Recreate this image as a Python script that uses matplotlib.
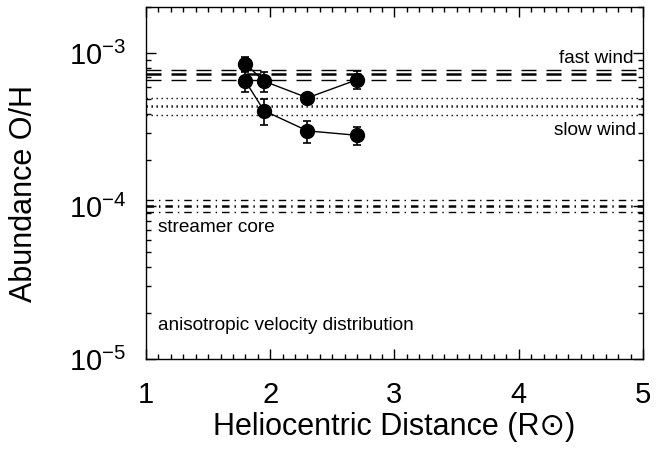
import numpy as np
import matplotlib
matplotlib.use('Agg')
import matplotlib.pyplot as plt
from matplotlib.ticker import MultipleLocator, LogLocator, NullFormatter

# Measured O/H abundances (two sets) vs heliocentric distance
distance = [1.8, 1.95, 2.3, 2.7]
abund_upper = [8.5e-4, 6.55e-4, 5.1e-4, 6.7e-4]
err_upper = [0.9e-4, 1.0e-4, 0.2e-4, 0.9e-4]
abund_lower = [6.55e-4, 4.2e-4, 3.1e-4, 2.9e-4]
err_lower = [1.0e-4, 0.8e-4, 0.5e-4, 0.4e-4]

# Reference levels (high / central / low)
fast_wind = [7.8e-4, 7.25e-4, 6.7e-4]
slow_wind = [5.1e-4, 4.5e-4, 3.95e-4]
streamer_core = [1.1e-4, 1.0e-4, 9.2e-5]

plt.rcParams['font.family'] = ['Liberation Sans', 'DejaVu Sans']
plt.rcParams['mathtext.fontset'] = 'custom'
plt.rcParams['mathtext.rm'] = 'Liberation Sans'
plt.rcParams['lines.scale_dashes'] = False

fig = plt.figure(figsize=(6.65, 4.5), dpi=100)
ax = fig.add_axes([0.2195, 0.2022, 0.7474, 0.7822])

# horizontal reference bands, middle line a bit heavier
for i, v in enumerate(fast_wind):
    ax.axhline(v, color='black', lw=1.8 if i == 1 else 1.0, linestyle=(0, (10.8, 7.2)))
for i, v in enumerate(slow_wind):
    ax.axhline(v, color='black', lw=1.8 if i == 1 else 1.0, linestyle=(0, (1.0, 2.6)))
for i, v in enumerate(streamer_core):
    ax.axhline(v, color='black', lw=1.8 if i == 1 else 1.0,
               linestyle=(0, (5.4, 3.6, 1.0, 3.6)))

for vals, errs in [(abund_upper, err_upper), (abund_lower, err_lower)]:
    ax.errorbar(distance, vals, yerr=errs, color='black', marker='o', ms=10,
                lw=1.0, elinewidth=1.2, capsize=3, capthick=1.2)

ax.set_yscale('log')
ax.set_xlim(1, 5)
ax.set_ylim(1e-5, 2e-3)

ax.xaxis.set_major_locator(MultipleLocator(1))
ax.xaxis.set_minor_locator(MultipleLocator(0.1))
ax.yaxis.set_major_locator(LogLocator(base=10))
ax.yaxis.set_minor_locator(LogLocator(base=10, subs=np.arange(2, 10)))
ax.yaxis.set_minor_formatter(NullFormatter())

ax.tick_params(which='both', direction='in', top=True, right=True, width=1.0)
ax.tick_params(which='major', length=7)
ax.tick_params(which='minor', length=3.5)
ax.tick_params(axis='x', which='major', labelsize=21, pad=16)
ax.tick_params(axis='y', which='major', labelsize=21, pad=14)
for s in ax.spines.values():
    s.set_linewidth(1.0)

ax.set_xlabel('Heliocentric Distance (R\u2299)', fontsize=22)
ax.set_ylabel('Abundance O/H', fontsize=22)
ax.xaxis.set_label_coords(0.5, -0.15)
ax.yaxis.set_label_coords(-0.215, 0.47)

ax.text(0.98, 0.84, 'fast wind', transform=ax.transAxes, fontsize=13.7,
        ha='right', va='baseline')
ax.text(0.986, 0.636, 'slow wind', transform=ax.transAxes, fontsize=13.7,
        ha='right', va='baseline')
ax.text(0.024, 0.361, 'streamer core', transform=ax.transAxes, fontsize=13.7,
        ha='left', va='baseline')
ax.text(0.024, 0.082, 'anisotropic velocity distribution', transform=ax.transAxes,
        fontsize=13.7, ha='left', va='baseline')

fig.savefig('out.png', dpi=100)
